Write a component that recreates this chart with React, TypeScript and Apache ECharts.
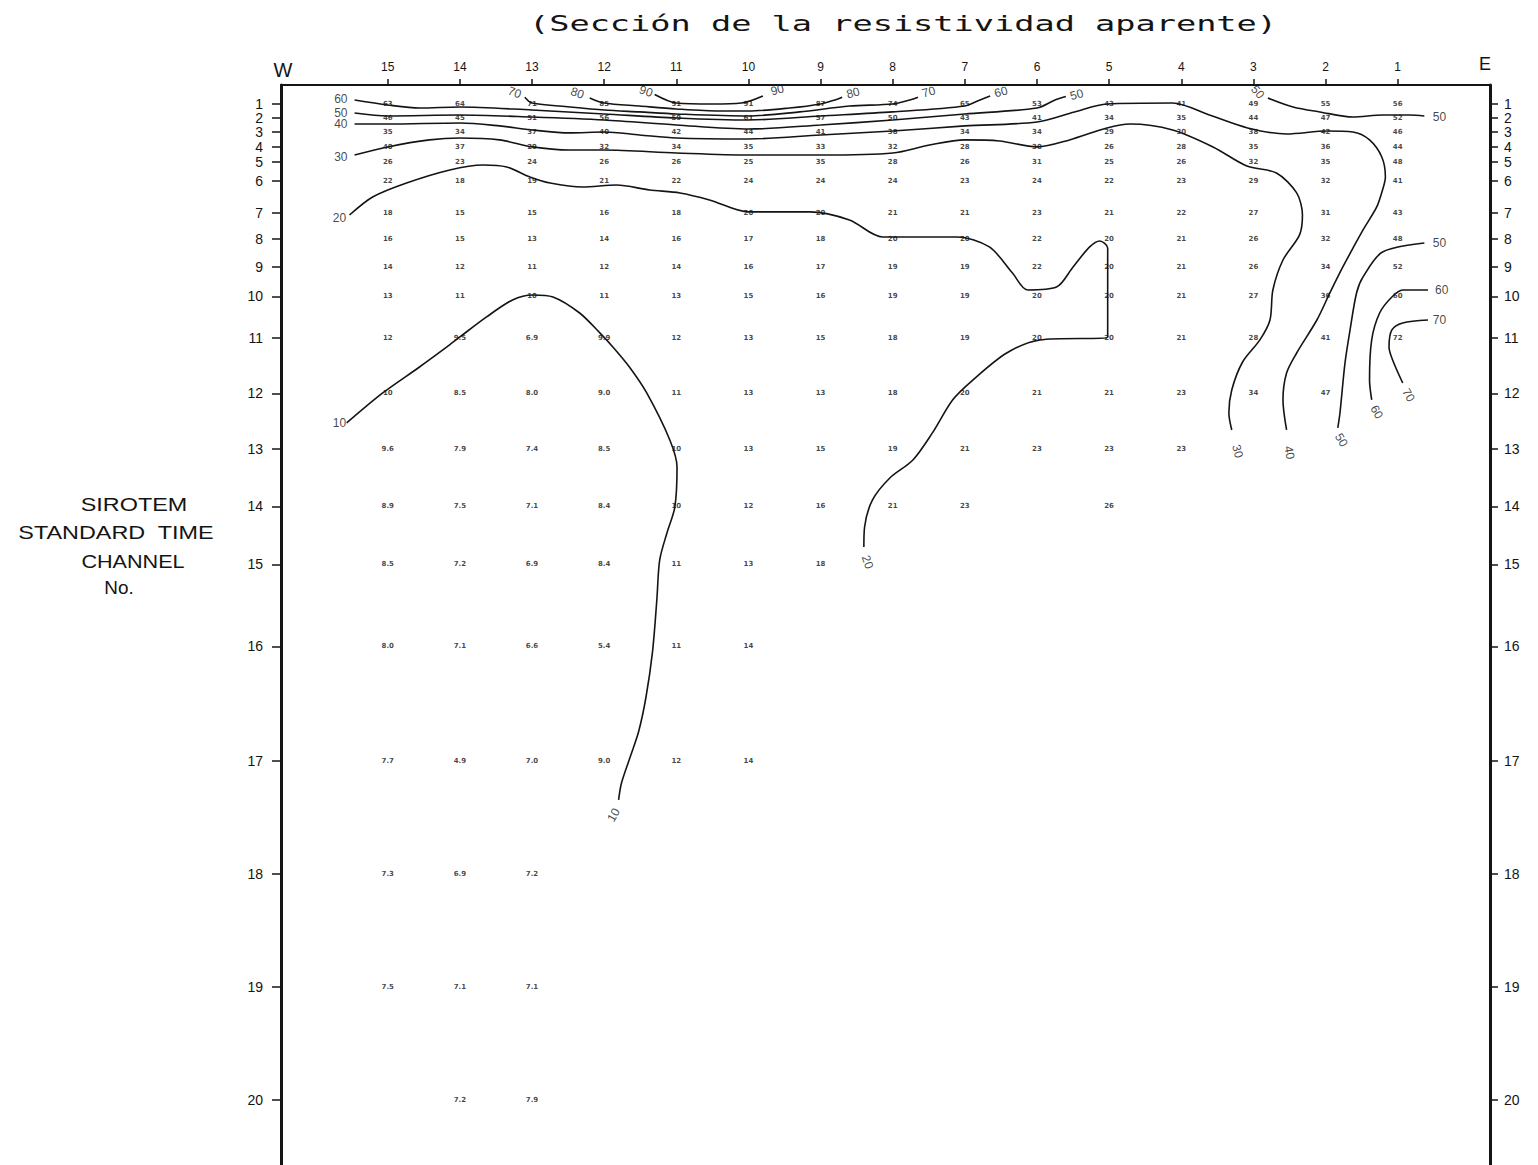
import React, { useEffect, useRef } from 'react';
import * as echarts from 'echarts';

// Stations (W -> E) and SIROTEM standard time channels
const stations = [15, 14, 13, 12, 11, 10, 9, 8, 7, 6, 5, 4, 3, 2, 1];
const channels = [1, 2, 3, 4, 5, 6, 7, 8, 9, 10, 11, 12, 13, 14, 15, 16, 17, 18, 19, 20];
// relative delay of each channel (axis units)
const channelTime = [0, 1.04, 2.08, 3.19, 4.3, 5.7, 8.1, 10.0, 12.1, 14.3, 17.4, 21.5, 25.6, 29.9, 34.2, 40.3, 48.8, 57.2, 65.6, 74.0];

// apparent resistivity readings, one row per channel, columns = stations 15..1
const ch01 = [63, 64, 71, 85, 91, 91, 87, 74, 65, 53, 43, 41, 49, 55, 56];
const ch02 = [46, 45, 51, 56, 59, 61, 57, 50, 43, 41, 34, 35, 44, 47, 52];
const ch03 = [35, 34, 37, 40, 42, 44, 41, 38, 34, 34, 29, 30, 38, 42, 46];
const ch04 = [40, 37, 29, 32, 34, 35, 33, 32, 28, 30, 26, 28, 35, 36, 44];
const ch05 = [26, 23, 24, 26, 26, 25, 35, 28, 26, 31, 25, 26, 32, 35, 48];
const ch06 = [22, 18, 19, 21, 22, 24, 24, 24, 23, 24, 22, 23, 29, 32, 41];
const ch07 = [18, 15, 15, 16, 18, 20, 20, 21, 21, 23, 21, 22, 27, 31, 43];
const ch08 = [16, 15, 13, 14, 16, 17, 18, 20, 20, 22, 20, 21, 26, 32, 48];
const ch09 = [14, 12, 11, 12, 14, 16, 17, 19, 19, 22, 20, 21, 26, 34, 52];
const ch10 = [13, 11, 10, 11, 13, 15, 16, 19, 19, 20, 20, 21, 27, 36, 60];
const ch11 = [12, 9.5, 6.9, 9.9, 12, 13, 15, 18, 19, 20, 20, 21, 28, 41, 72];
const ch12 = [10, 8.5, 8.0, 9.0, 11, 13, 13, 18, 20, 21, 21, 23, 34, 47, null];
const ch13 = [9.6, 7.9, 7.4, 8.5, 10, 13, 15, 19, 21, 23, 23, 23, null, null, null];
const ch14 = [8.9, 7.5, 7.1, 8.4, 10, 12, 16, 21, 23, null, 26, null, null, null, null];
const ch15 = [8.5, 7.2, 6.9, 8.4, 11, 13, 18, null, null, null, null, null, null, null, null];
const ch16 = [8.0, 7.1, 6.6, 5.4, 11, 14, null, null, null, null, null, null, null, null, null];
const ch17 = [7.7, 4.9, 7.0, 9.0, 12, 14, null, null, null, null, null, null, null, null, null];
const ch18 = [7.3, 6.9, 7.2, null, null, null, null, null, null, null, null, null, null, null, null];
const ch19 = [7.5, 7.1, 7.1, null, null, null, null, null, null, null, null, null, null, null, null];
const ch20 = [null, 7.2, 7.9, null, null, null, null, null, null, null, null, null, null, null, null];
const readings = [ch01, ch02, ch03, ch04, ch05, ch06, ch07, ch08, ch09, ch10, ch11, ch12, ch13, ch14, ch15, ch16, ch17, ch18, ch19, ch20];

// iso-resistivity contours, points as [station, channel delay]
const iso90 = [[11.3, -0.7], [11.0, -0.07], [10.5, 0.0], [10.1, -0.07], [9.8, -0.6]];
const iso80 = [[12.2, -0.45], [12.0, -0.07], [11.51, 0.15], [11.0, 0.37], [10.4, 0.52], [10.0, 0.52], [9.43, 0.3], [9.0, 0.0], [8.8, -0.3], [8.7, -0.5]];
const iso70 = [[13.1, -0.5], [13.0, -0.07], [12.48, 0.22], [12.0, 0.45], [11.51, 0.59], [11.0, 0.74], [10.0, 0.89], [9.29, 0.59], [8.6, 0.15], [8.0, 0.0], [7.76, -0.3], [7.65, -0.5]];
const iso60 = [[15.46, -0.3], [15.0, 0.07], [14.56, 0.3], [14.0, 0.22], [13.0, 0.45], [12.0, 0.74], [11.0, 1.04], [10.0, 1.19], [9.0, 0.89], [8.0, 0.59], [7.0, 0.15], [6.79, -0.3], [6.65, -0.6]];
const iso50 = [[15.46, 0.67], [15.0, 0.89], [14.0, 0.82], [13.0, 0.97], [12.0, 1.19], [11.0, 1.56], [10.0, 1.86], [9.0, 1.56], [8.0, 1.19], [7.0, 0.74], [6.0, 0.3], [5.75, -0.3], [5.6, -0.55]];
const iso40 = [[15.46, 1.49], [15.0, 1.49], [14.0, 1.41], [13.45, 1.63], [13.0, 1.93], [12.48, 2.15], [12.0, 2.08], [11.51, 2.3], [11.0, 2.53], [10.0, 2.6], [9.0, 2.3], [8.0, 2.01], [7.0, 1.63], [6.0, 1.34], [5.48, 0.59], [5.03, 0.0], [4.12, -0.07], [3.61, 0.82], [3.08, 1.78], [2.54, 2.23], [1.98, 2.01], [1.62, 2.08], [1.39, 2.67], [1.22, 3.94], [1.17, 5.42], [1.21, 6.39], [1.29, 7.65], [1.48, 9.36], [1.76, 12.11], [1.94, 14.04], [2.12, 16.05], [2.4, 18.5], [2.54, 19.99], [2.59, 21.99], [2.54, 24.22]];
const iso30 = [[15.46, 3.79], [15.0, 3.19], [14.42, 2.67], [14.0, 2.53], [13.45, 2.67], [13.0, 3.19], [12.48, 3.42], [12.0, 3.42], [11.0, 3.64], [10.0, 3.79], [9.0, 3.79], [8.0, 3.64], [7.49, 3.05], [7.0, 2.67], [6.52, 2.75], [6.0, 3.19], [5.55, 2.67], [5.03, 1.78], [4.71, 1.49], [4.12, 1.93], [3.56, 3.19], [3.09, 4.61], [2.68, 5.13], [2.4, 6.61], [2.32, 8.25], [2.36, 9.73], [2.59, 11.59], [2.73, 13.82], [2.77, 16.05], [2.91, 17.53], [3.15, 19.17], [3.3, 21.25], [3.34, 22.96], [3.3, 24.22]];
const iso20 = [[15.53, 8.25], [15.21, 6.91], [14.74, 5.87], [14.14, 4.9], [13.68, 4.53], [13.35, 4.68], [13.03, 5.42], [12.75, 5.87], [12.3, 6.17], [11.83, 6.02], [11.37, 6.39], [10.95, 6.61], [10.54, 7.13], [10.0, 8.02], [9.15, 8.02], [8.6, 8.62], [8.14, 9.88], [7.11, 9.88], [6.66, 10.62], [6.34, 12.56], [6.13, 13.82], [5.73, 13.6], [5.5, 12.11], [5.27, 10.62], [5.13, 10.18], [5.02, 10.7], [5.02, 13.82], [5.02, 17.31], [5.96, 17.53], [6.42, 18.5], [6.89, 20.51], [7.17, 21.99], [7.45, 24.44], [7.72, 26.45], [8.04, 27.79], [8.28, 29.42], [8.39, 31.43], [8.4, 32.91]];
const iso10 = [[15.57, 23.7], [15.07, 21.47], [14.56, 19.54], [14.18, 18.05], [14.0, 17.31], [13.63, 15.82], [13.27, 14.56], [12.99, 14.19], [12.71, 14.34], [12.34, 15.53], [12.06, 17.01], [11.88, 18.05], [11.65, 19.54], [11.41, 21.47], [11.09, 24.96], [10.99, 26.97], [11.02, 29.94], [11.13, 31.87], [11.23, 33.88], [11.27, 36.85], [11.33, 40.71], [11.42, 44.06], [11.52, 46.58], [11.63, 48.37], [11.76, 50.45], [11.8, 51.71]];
const iso50eTop = [[2.8, -0.45], [2.45, 0.22], [2.08, 0.59], [1.62, 0.97], [1.21, 0.82], [0.83, 0.82], [0.63, 0.89]];
const iso50eLow = [[0.63, 10.33], [1.21, 11.0], [1.48, 12.85], [1.57, 14.04], [1.66, 16.79], [1.73, 19.24], [1.8, 22.96], [1.83, 24.07]];
const iso60e = [[0.58, 13.82], [0.93, 13.82], [1.08, 14.34], [1.25, 15.53], [1.36, 17.53], [1.39, 20.51], [1.36, 21.99]];
const iso70e = [[0.58, 16.05], [0.93, 16.27], [1.08, 16.79], [1.12, 18.05], [1.07, 19.02], [0.93, 20.73]];
const contours = [iso90, iso80, iso70, iso60, iso50, iso40, iso30, iso20, iso10, iso50eTop, iso50eLow, iso60e, iso70e];

// contour value labels: [value, station, delay, rotation]
const isoLabels = [
  [90, 11.42, -0.95, -20], [90, 9.6, -1.05, 15],
  [80, 12.37, -0.82, -20], [80, 8.55, -0.82, 15],
  [70, 13.24, -0.85, -20], [70, 7.5, -0.9, 15],
  [60, 15.65, -0.37, 0], [60, 6.5, -0.9, 15],
  [50, 15.65, 0.67, 0], [50, 5.45, -0.7, 15],
  [40, 15.65, 1.49, 0], [40, 2.5, 25.9, -80],
  [30, 15.65, 3.94, 0], [30, 3.22, 25.8, -75],
  [20, 15.67, 8.47, 0], [20, 8.35, 34.03, -70],
  [10, 15.67, 23.7, 0], [10, 11.87, 52.82, 60],
  [50, 2.94, -0.89, -50], [50, 0.42, 0.97, 0],
  [50, 0.42, 10.33, 0], [50, 1.78, 24.96, -60],
  [60, 0.39, 13.82, 0], [60, 1.29, 22.88, -60],
  [70, 0.42, 16.05, 0], [70, 0.85, 21.62, -60],
];

const titleText = '(Sección de la resistividad aparente)';
const sideTitle = ['SIROTEM', 'STANDARD  TIME', 'CHANNEL', 'No.'];

function channelLabel(v: number): string {
  const i = channelTime.findIndex((t) => Math.abs(t - v) < 1e-6);
  return i >= 0 ? String(channels[i]) : '';
}

export default function App() {
  const ref = useRef<HTMLDivElement>(null);
  useEffect(() => {
    if (!ref.current) return;
    const chart = echarts.init(ref.current, null, { renderer: 'svg' });
    const ink = '#141414';
    const plainLabel = { color: ink, textBorderWidth: 0, textBorderColor: 'transparent', textShadowBlur: 0 };

    const readingPoints: any[] = [];
    readings.forEach((row, ci) => {
      row.forEach((v, si) => {
        if (v === null || v === undefined) return;
        readingPoints.push({
          value: [stations[si], channelTime[ci], v],
          label: { ...plainLabel },
        });
      });
    });

    const labelPoints = isoLabels.map((l) => ({
      value: [l[1], l[2], l[0]],
      label: { ...plainLabel, rotate: l[3] },
    }));

    const yAxisBase = {
      type: 'value',
      inverse: true,
      min: -1.41,
      max: 78.83,
      splitLine: { show: false },
      axisLine: { show: true, onZero: false, lineStyle: { color: ink, width: 3 } },
    };

    const option: any = {
      animation: false,
      color: [ink],
      backgroundColor: '#ffffff',
      grid: { left: 281, right: 48, top: 85, bottom: 0 },
      xAxis: {
        type: 'value',
        position: 'top',
        inverse: true,
        min: -0.28,
        max: 16.48,
        splitLine: { show: false },
        axisLine: { show: true, onZero: false, lineStyle: { color: ink, width: 2 } },
        axisTick: { show: true, length: 6, customValues: stations, lineStyle: { color: ink, width: 1.5 } },
        axisLabel: {
          customValues: stations,
          margin: 12,
          fontSize: 12,
          color: ink,
          fontFamily: 'Liberation Sans',
          formatter: (v: number) => String(v),
        },
      },
      yAxis: [
        {
          ...yAxisBase,
          position: 'left',
          axisTick: { show: true, length: 9, customValues: channelTime, lineStyle: { color: ink, width: 1.5 } },
          axisLabel: { customValues: channelTime, formatter: channelLabel, margin: 18, fontSize: 14, lineHeight: 13, color: ink, fontFamily: 'Liberation Sans', showMinLabel: true, showMaxLabel: true },
        },
        {
          ...yAxisBase,
          position: 'right',
          axisTick: { show: true, length: 8, customValues: channelTime, lineStyle: { color: ink, width: 1.5 } },
          axisLabel: { customValues: channelTime, formatter: channelLabel, margin: 14, fontSize: 14, lineHeight: 13, color: ink, fontFamily: 'Liberation Sans', showMinLabel: true, showMaxLabel: true },
        },
      ],
      series: [
        ...contours.map((c) => ({
          type: 'line',
          data: c,
          smooth: 0.3,
          symbol: 'none',
          showSymbol: false,
          silent: true,
          lineStyle: { color: ink, width: 1.6 },
          itemStyle: { color: ink },
          xAxisIndex: 0,
          yAxisIndex: 0,
        })),
        {
          type: 'scatter',
          data: readingPoints,
          symbolSize: 0,
          silent: true,
          itemStyle: { color: ink },
          xAxisIndex: 0,
          yAxisIndex: 0,
          label: {
            show: true,
            position: 'inside',
            ...plainLabel,
            fontSize: 7,
            fontWeight: 'bold',
            fontFamily: 'DejaVu Sans',
            formatter: (p: any) => {
              const v = p.value[2];
              return v < 10 ? v.toFixed(1) : String(v);
            },
          },
        },
        {
          type: 'scatter',
          data: labelPoints,
          symbolSize: 0,
          silent: true,
          itemStyle: { color: ink },
          xAxisIndex: 0,
          yAxisIndex: 0,
          label: {
            show: true,
            position: 'inside',
            ...plainLabel,
            fontSize: 12,
            fontFamily: 'Liberation Sans',
            formatter: (p: any) => String(p.value[2]),
          },
        },
      ],
      graphic: [
        {
          type: 'text',
          x: 903,
          y: 24,
          scaleX: 1.6,
          style: { text: titleText, font: '21px "DejaVu Sans Mono"', align: 'center', verticalAlign: 'middle', textAlign: 'center', textVerticalAlign: 'middle', fill: ink },
        },
        {
          type: 'text',
          x: 283,
          y: 70,
          style: { text: 'W', font: '20px "Liberation Sans"', align: 'center', verticalAlign: 'middle', textAlign: 'center', textVerticalAlign: 'middle', fill: ink },
        },
        {
          type: 'text',
          x: 1485,
          y: 64,
          style: { text: 'E', font: '18px "Liberation Sans"', align: 'center', verticalAlign: 'middle', textAlign: 'center', textVerticalAlign: 'middle', fill: ink },
        },
        {
          type: 'text', x: 134, y: 505, scaleX: 1.3,
          style: { text: sideTitle[0], font: '18px "Liberation Sans"', align: 'center', verticalAlign: 'middle', textAlign: 'center', textVerticalAlign: 'middle', fill: ink },
        },
        {
          type: 'text', x: 116, y: 533, scaleX: 1.3,
          style: { text: sideTitle[1], font: '18px "Liberation Sans"', align: 'center', verticalAlign: 'middle', textAlign: 'center', textVerticalAlign: 'middle', fill: ink },
        },
        {
          type: 'text', x: 133, y: 562, scaleX: 1.2,
          style: { text: sideTitle[2], font: '18px "Liberation Sans"', align: 'center', verticalAlign: 'middle', textAlign: 'center', textVerticalAlign: 'middle', fill: ink },
        },
        {
          type: 'text', x: 119, y: 588, scaleX: 1.05,
          style: { text: sideTitle[3], font: '18px "Liberation Sans"', align: 'center', verticalAlign: 'middle', textAlign: 'center', textVerticalAlign: 'middle', fill: ink },
        },
      ],
    };
    chart.setOption(option);
    return () => chart.dispose();
  }, []);
  return (
    <div
      ref={ref}
      style={{ position: 'absolute', left: 0, top: 0, width: 1538, height: 1165, background: '#ffffff' }}
    />
  );
}
